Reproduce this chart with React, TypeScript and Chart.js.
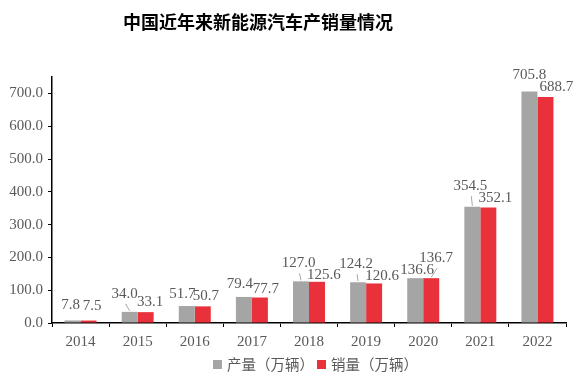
import React, { useEffect, useRef } from "react";
import { Chart, registerables } from "chart.js";

Chart.register(...registerables);

const years = ["2014", "2015", "2016", "2017", "2018", "2019", "2020", "2021", "2022"];
const production = [7.8, 34.0, 51.7, 79.4, 127.0, 124.2, 136.6, 354.5, 705.8];
const sales = [7.5, 33.1, 50.7, 77.7, 125.6, 120.6, 136.7, 352.1, 688.7];
const seriesNames = ["产量（万辆）", "销量（万辆）"];
const yMax = 750;
const yTickValues = [0, 100, 200, 300, 400, 500, 600, 700];

// label placement (style): offsets from the bar top centre, and whether a leader line is drawn
const prodLabelOffsets = [[-2, -15], [-5, -18], [-4.5, -12], [-4, -13], [-2.5, -18], [-2, -18], [2, -8], [-2, -20.5], [0, -16]];
const salesLabelOffsets = [[3.5, -14.5], [4.5, -10.4], [3, -10.6], [6, -8.5], [7, -6.7], [8, -7.4], [5, -20], [7, -9], [11, -10]];
const prodLeaders = [false, true, false, false, true, true, false, true, false];
const salesLeaders = [false, false, false, false, false, false, true, false, false];

const GRAY = "#A5A5A5";
const RED = "#E8313A";
const TEXT = "#595959";
const SERIF = "'Liberation Serif', 'Times New Roman', serif";
const CJK = "'Noto Sans CJK SC', sans-serif";

export default function App() {
  const ref = useRef<HTMLCanvasElement | null>(null);

  useEffect(() => {
    if (!ref.current) return;

    const labelPlugin = {
      id: "barLabels",
      afterDatasetsDraw(chart: any) {
        const ctx = chart.ctx;
        const offsets = [prodLabelOffsets, salesLabelOffsets];
        const leaders = [prodLeaders, salesLeaders];
        ctx.save();
        ctx.font = `15px ${SERIF}`;
        ctx.fillStyle = TEXT;
        ctx.textAlign = "center";
        ctx.textBaseline = "middle";
        chart.data.datasets.forEach((ds: any, d: number) => {
          const meta = chart.getDatasetMeta(d);
          meta.data.forEach((el: any, i: number) => {
            const [dx, dy] = offsets[d][i];
            const lx = el.x + dx;
            const ly = el.y + dy;
            ctx.fillText(Number(ds.data[i]).toFixed(1), lx, ly);
            if (leaders[d][i]) {
              ctx.beginPath();
              ctx.strokeStyle = "#A6A6A6";
              ctx.lineWidth = 1;
              ctx.moveTo(lx + 1, ly + 10);
              ctx.lineTo(el.x, el.y - 1);
              ctx.stroke();
            }
          });
        });
        ctx.restore();
      },
    };

    const titlePlugin = {
      id: "customTitle",
      afterDraw(chart: any) {
        const ctx = chart.ctx;
        ctx.save();
        ctx.font = `bold 18px ${CJK}`;
        ctx.fillStyle = "#000";
        ctx.textAlign = "center";
        ctx.textBaseline = "middle";
        ctx.fillText("中国近年来新能源汽车产销量情况", 258, 22);
        ctx.restore();
      },
    };

    const legendPlugin = {
      id: "customLegend",
      afterDraw(chart: any) {
        const ctx = chart.ctx;
        const colors = [GRAY, RED];
        const boxX = [213, 317];
        const cy = 364.5;
        ctx.save();
        ctx.font = `14.5px ${CJK}`;
        ctx.textAlign = "left";
        ctx.textBaseline = "middle";
        chart.data.datasets.forEach((ds: any, d: number) => {
          ctx.fillStyle = colors[d];
          ctx.fillRect(boxX[d], cy - 4.5, 9, 9);
          ctx.fillStyle = TEXT;
          ctx.fillText(ds.label, boxX[d] + 14, cy);
        });
        ctx.restore();
      },
    };

    const chart = new Chart(ref.current, {
      type: "bar",
      data: {
        labels: years,
        datasets: [
          { label: seriesNames[0], data: production, backgroundColor: GRAY, categoryPercentage: 0.56, barPercentage: 1.0 },
          { label: seriesNames[1], data: sales, backgroundColor: RED, categoryPercentage: 0.56, barPercentage: 1.0 },
        ],
      },
      options: {
        responsive: false,
        animation: false,
        layout: { padding: { top: 77, left: 0, right: 18, bottom: 0 } },
        plugins: {
          title: { display: false },
          tooltip: { enabled: false },
          legend: { display: false },
        },
        scales: {
          x: {
            grid: { display: true, drawOnChartArea: false, drawTicks: true, tickLength: 4, color: "#000", offset: true },
            border: { display: true, color: "#000", width: 1.5 },
            ticks: { color: TEXT, font: { family: SERIF, size: 15 }, padding: 6, maxRotation: 0 },
            afterFit(scale: any) {
              scale.height = 55;
            },
          },
          y: {
            min: 0,
            max: yMax,
            grid: { display: true, drawOnChartArea: false, drawTicks: true, tickLength: 4, color: "#000" },
            border: { display: true, color: "#000", width: 1.5 },
            ticks: {
              autoSkip: false,
              color: TEXT,
              font: { family: SERIF, size: 15 },
              padding: 5,
              callback: (v: any) => Number(v).toFixed(1),
            },
            afterBuildTicks(scale: any) {
              scale.ticks = yTickValues.map((v) => ({ value: v }));
            },
            afterFit(scale: any) {
              scale.width = 52;
            },
          },
        },
      },
      plugins: [labelPlugin, titlePlugin, legendPlugin],
    });

    return () => chart.destroy();
  }, []);

  return (
    <div style={{ position: "absolute", left: 0, top: 0, width: 584, height: 378, background: "#fff" }}>
      <canvas ref={ref} width={584} height={378} style={{ display: "block", width: 584, height: 378 }} />
    </div>
  );
}
